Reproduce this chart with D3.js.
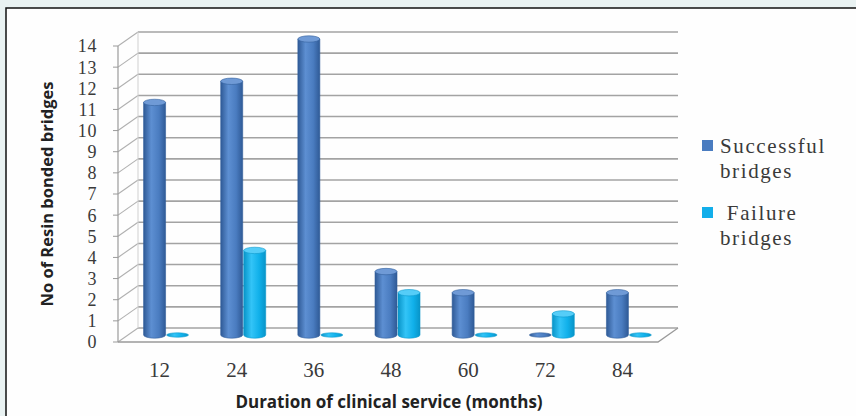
<!DOCTYPE html>
<html><head><meta charset="utf-8">
<script src="https://cdn.jsdelivr.net/npm/d3@7"></script>
<style>
html,body{margin:0;padding:0;background:#e9f2f2;}
svg{display:block;}
</style></head>
<body>
<script>
const categories = ["12","24","36","48","60","72","84"];
const seriesNames = ["Successful bridges","Failure bridges"];
const successful = [11,12,14,3,2,0,2];
const failure = [0,4,0,2,0,1,0];
const yTicks = [0,1,2,3,4,5,6,7,8,9,10,11,12,13,14];

const W = 856, H = 416;
const svg = d3.select("body").append("svg").attr("width", W).attr("height", H);
const defs = svg.append("defs");

// chart frame
svg.append("rect").attr("x",6).attr("y",8).attr("width",W+10).attr("height",H+10)
  .attr("fill","#fefefe").attr("stroke","#111").attr("stroke-width",1.5);

const dx = 20, dy = -14; // depth offset
const x0 = d3.scaleBand().domain(categories).range([118, 658]);
const x1 = d3.scaleBand().domain(seriesNames).range([0, 46]);
const y = d3.scaleLinear().domain([0, 14]).range([342, 46]);

const gridColor = "#a3a3a3";
const g = svg.append("g");

// back wall horizontal gridlines
g.selectAll("line.grid").data(yTicks).join("line")
  .attr("x1", 118+dx).attr("x2", 658+dx)
  .attr("y1", d => y(d)+dy).attr("y2", d => y(d)+dy)
  .attr("stroke", gridColor).attr("stroke-width", 1.6);
// side wall diagonals
g.selectAll("line.side").data(yTicks).join("line")
  .attr("x1", 118).attr("x2", 118+dx)
  .attr("y1", d => y(d)).attr("y2", d => y(d)+dy)
  .attr("stroke", "#b0b0b0").attr("stroke-width", 1.1);
// back wall left edge
g.append("line").attr("x1",118+dx).attr("x2",118+dx).attr("y1",y(14)+dy).attr("y2",y(0)+dy)
  .attr("stroke","#d0d0d0").attr("stroke-width",1);
// front vertical axis
g.append("line").attr("x1",118).attr("x2",118).attr("y1",y(14)).attr("y2",y(0))
  .attr("stroke","#9a9a9a").attr("stroke-width",1.2);
// ticks
g.selectAll("line.tick").data(yTicks).join("line")
  .attr("x1",113).attr("x2",118).attr("y1",d=>y(d)).attr("y2",d=>y(d))
  .attr("stroke","#9a9a9a").attr("stroke-width",1);
// floor
g.append("path")
  .attr("d", `M118,${y(0)}L658,${y(0)}L${658+dx},${y(0)+dy}`)
  .attr("fill","none").attr("stroke","#9a9a9a").attr("stroke-width",1.3);

// y tick labels
svg.append("g").selectAll("text").data(yTicks).join("text")
  .attr("x", 97).attr("y", d => y(d)).attr("dy","0.36em")
  .attr("text-anchor","end")
  .attr("font-family","Liberation Serif, serif").attr("font-size",18)
  .attr("letter-spacing",0.6)
  .attr("fill","#3a3a3a")
  .text(d => d);

// x tick labels
svg.append("g").selectAll("text").data(categories).join("text")
  .attr("x", d => x0(d) + x0.bandwidth()/2 + 3).attr("y", 377)
  .attr("text-anchor","middle")
  .attr("font-family","Liberation Serif, serif").attr("font-size",21)
  .attr("fill","#3a3a3a")
  .text(d => d);

// gradients
function cylGrad(id, dark, mid, light) {
  const lg = defs.append("linearGradient").attr("id", id).attr("x1","0").attr("x2","1").attr("y1","0").attr("y2","0");
  lg.append("stop").attr("offset","0%").attr("stop-color",dark);
  lg.append("stop").attr("offset","35%").attr("stop-color",light);
  lg.append("stop").attr("offset","70%").attr("stop-color",mid);
  lg.append("stop").attr("offset","100%").attr("stop-color",dark);
}
cylGrad("gS", "#2f5a96", "#4a7cc0", "#5d8fd2");
cylGrad("gF", "#0894c8", "#10b0ea", "#33c4f7");
const topCol = ["#6f9ad6", "#55cdf8"];
const edgeCol = ["#335f9c", "#0a98cc"];

const data = [];
categories.forEach((c, i) => {
  data.push({cat: c, s: 0, v: successful[i]});
  data.push({cat: c, s: 1, v: failure[i]});
});

const bw = 22, ry = 3.2;
const bars = svg.append("g");
data.forEach(d => {
  const cx = x0(d.cat) + x0.bandwidth()/2 - 23 + dx/2 + x1(seriesNames[d.s]) + bw/2;
  const yb = y(0) + dy/2;
  const yt = y(d.v) + dy/2;
  const grad = d.s === 0 ? "url(#gS)" : "url(#gF)";
  if (d.v === 0) {
    bars.append("ellipse").attr("cx", cx).attr("cy", yb).attr("rx", bw/2).attr("ry", 2.2)
      .attr("fill", grad).attr("stroke", edgeCol[d.s]).attr("stroke-width",0.6);
    return;
  }
  bars.append("path")
    .attr("d", `M${cx-bw/2},${yt} L${cx-bw/2},${yb} A${bw/2},${ry} 0 0 0 ${cx+bw/2},${yb} L${cx+bw/2},${yt} Z`)
    .attr("fill", grad).attr("stroke", edgeCol[d.s]).attr("stroke-width", 0.6);
  bars.append("ellipse").attr("cx", cx).attr("cy", yt).attr("rx", bw/2).attr("ry", ry)
    .attr("fill", topCol[d.s]).attr("stroke", edgeCol[d.s]).attr("stroke-width", 0.6);
});

// legend
const legColors = ["#4a7cc0", "#12aeea"];
const leg = svg.append("g").attr("font-family","Liberation Serif, serif").attr("font-size",21)
  .attr("fill","#3a3a3a").attr("letter-spacing", 1.6);
const legendLines = [["Successful","bridges"],[" Failure","bridges"]];
[0,1].forEach(i => {
  const top = 140 + i*67;
  leg.append("rect").attr("x",702).attr("y",top).attr("width",11).attr("height",11).attr("fill",legColors[i]);
  leg.append("text").attr("x",720).attr("y",top+13).attr("xml:space","preserve").text(legendLines[i][0]);
  leg.append("text").attr("x",720).attr("y",top+38).text(legendLines[i][1]);
});

// axis titles
svg.append("text").attr("transform","translate(53,194) rotate(-90)")
  .attr("text-anchor","middle").attr("font-family","Open Sans, sans-serif")
  .attr("font-weight","bold").attr("font-size",16.5).attr("fill","#222")
  .text("No of Resin bonded bridges");
svg.append("text").attr("x",389).attr("y",408)
  .attr("text-anchor","middle").attr("font-family","Open Sans, sans-serif")
  .attr("font-weight","bold").attr("font-size",17).attr("fill","#222")
  .text("Duration of clinical service (months)");
</script>
</body></html>
